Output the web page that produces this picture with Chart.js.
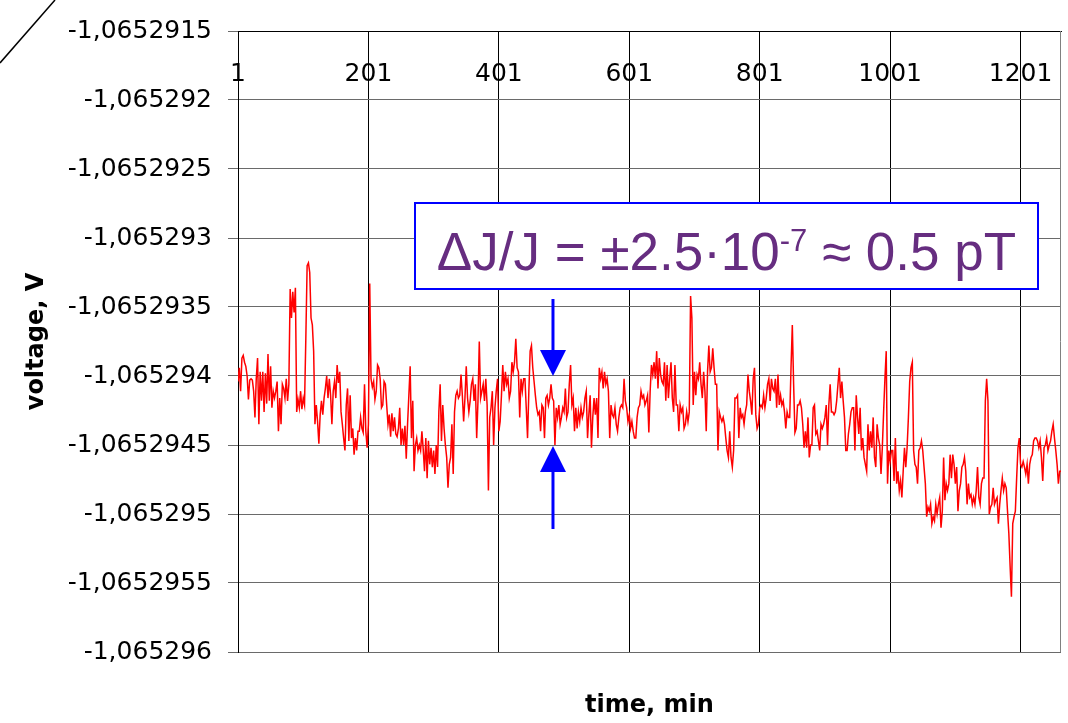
<!DOCTYPE html>
<html><head><meta charset="utf-8">
<script src="https://cdn.jsdelivr.net/npm/chart.js@4.4.0/dist/chart.umd.min.js"></script>
<style>html,body{margin:0;padding:0;background:#fff;}canvas{display:block;}</style>
</head><body>
<canvas id="c" width="1068" height="723"></canvas>
<script>
// voltage readings (V), one every 2 minutes
const voltage = [
-1.06529404,-1.06529394,-1.06529411,-1.06529387,-1.06529385,-1.06529390,-1.06529393,-1.06529400,-1.06529417,-1.06529403,
-1.06529402,-1.06529403,-1.06529411,-1.06529430,-1.06529402,-1.06529387,-1.06529435,-1.06529397,-1.06529418,-1.06529397,
-1.06529426,-1.06529398,-1.06529420,-1.06529384,-1.06529418,-1.06529393,-1.06529423,-1.06529411,-1.06529416,-1.06529411,
-1.06529404,-1.06529440,-1.06529416,-1.06529435,-1.06529406,-1.06529409,-1.06529416,-1.06529402,-1.06529418,-1.06529406,
-1.06529337,-1.06529358,-1.06529339,-1.06529354,-1.06529336,-1.06529426,-1.06529417,-1.06529423,-1.06529411,-1.06529424,
-1.06529416,-1.06529421,-1.06529373,-1.06529320,-1.06529318,-1.06529325,-1.06529358,-1.06529363,-1.06529382,-1.06529435,
-1.06529421,-1.06529433,-1.06529449,-1.06529428,-1.06529418,-1.06529428,-1.06529416,-1.06529409,-1.06529400,-1.06529416,
-1.06529402,-1.06529414,-1.06529435,-1.06529411,-1.06529404,-1.06529416,-1.06529392,-1.06529405,-1.06529397,-1.06529426,
-1.06529435,-1.06529445,-1.06529454,-1.06529421,-1.06529409,-1.06529447,-1.06529414,-1.06529445,-1.06529438,-1.06529457,
-1.06529445,-1.06529454,-1.06529440,
-1.06529440,-1.06529430,-1.06529438,-1.06529441,-1.06529406,-1.06529440,-1.06529452,-1.06529435,-1.06529333,-1.06529402,
-1.06529408,-1.06529404,-1.06529417,-1.06529411,-1.06529392,-1.06529394,-1.06529402,-1.06529423,-1.06529421,-1.06529404,
-1.06529406,-1.06529421,-1.06529435,-1.06529428,-1.06529444,-1.06529427,-1.06529440,-1.06529430,-1.06529442,-1.06529444,
-1.06529438,-1.06529423,-1.06529450,-1.06529438,-1.06529450,-1.06529436,-1.06529460,-1.06529435,-1.06529414,-1.06529393,
-1.06529445,-1.06529418,-1.06529469,-1.06529450,-1.06529445,-1.06529454,-1.06529450,-1.06529454,-1.06529440,-1.06529453,
-1.06529469,-1.06529445,-1.06529474,-1.06529447,-1.06529464,-1.06529452,-1.06529466,-1.06529454,-1.06529471,-1.06529450,
-1.06529466,-1.06529426,-1.06529406,-1.06529447,-1.06529421,-1.06529438,-1.06529450,-1.06529459,-1.06529481,-1.06529464,
-1.06529459,-1.06529435,-1.06529471,-1.06529426,-1.06529414,-1.06529411,-1.06529416,-1.06529414,-1.06529399,-1.06529414,
-1.06529433,-1.06529416,-1.06529393,-1.06529416,-1.06529426,-1.06529418,-1.06529406,-1.06529402,-1.06529418,-1.06529406,
-1.06529445,-1.06529418,
-1.06529375,-1.06529416,-1.06529411,-1.06529406,-1.06529418,-1.06529402,-1.06529421,-1.06529483,-1.06529430,-1.06529423,
-1.06529411,-1.06529450,-1.06529423,-1.06529411,-1.06529402,-1.06529440,-1.06529433,-1.06529414,-1.06529392,-1.06529411,
-1.06529397,-1.06529406,-1.06529402,-1.06529416,-1.06529411,-1.06529390,-1.06529397,-1.06529390,-1.06529373,-1.06529394,
-1.06529397,-1.06529430,-1.06529402,-1.06529411,-1.06529402,-1.06529402,-1.06529423,-1.06529445,-1.06529411,-1.06529382,
-1.06529378,-1.06529394,-1.06529404,-1.06529414,-1.06529423,-1.06529428,-1.06529426,-1.06529440,-1.06529421,-1.06529423,
-1.06529445,-1.06529416,-1.06529414,-1.06529421,-1.06529416,-1.06529406,-1.06529416,-1.06529418,-1.06529450,-1.06529423,
-1.06529430,-1.06529421,-1.06529435,-1.06529430,-1.06529423,-1.06529426,-1.06529409,-1.06529430,-1.06529426,-1.06529406,
-1.06529392,-1.06529421,-1.06529416,-1.06529440,-1.06529423,-1.06529438,-1.06529426,-1.06529433,-1.06529423,-1.06529430,
-1.06529426,-1.06529416,-1.06529411,-1.06529445,-1.06529428,-1.06529414,-1.06529452,-1.06529430,-1.06529416,-1.06529428,
-1.06529416,-1.06529445,
-1.06529394,-1.06529402,-1.06529397,-1.06529409,-1.06529397,-1.06529406,-1.06529402,-1.06529411,-1.06529445,-1.06529421,
-1.06529428,-1.06529430,-1.06529423,-1.06529435,-1.06529440,-1.06529430,-1.06529423,-1.06529421,-1.06529423,-1.06529402,
-1.06529418,-1.06529423,-1.06529433,-1.06529428,-1.06529438,-1.06529433,-1.06529440,-1.06529445,-1.06529445,-1.06529430,
-1.06529423,-1.06529421,-1.06529411,-1.06529416,-1.06529414,-1.06529421,-1.06529418,-1.06529414,-1.06529441,-1.06529411,
-1.06529392,-1.06529399,-1.06529390,-1.06529402,-1.06529382,-1.06529409,-1.06529387,-1.06529399,-1.06529404,-1.06529406,
-1.06529390,-1.06529418,-1.06529392,-1.06529416,-1.06529402,-1.06529390,-1.06529416,-1.06529426,-1.06529392,-1.06529421,
-1.06529421,-1.06529440,-1.06529421,-1.06529426,-1.06529423,-1.06529438,-1.06529435,-1.06529426,-1.06529433,-1.06529426,
-1.06529342,-1.06529358,-1.06529421,-1.06529397,-1.06529414,-1.06529399,-1.06529402,-1.06529390,-1.06529406,-1.06529416,
-1.06529397,-1.06529411,-1.06529440,-1.06529397,-1.06529378,-1.06529397,-1.06529394,-1.06529380,-1.06529394,-1.06529406,
-1.06529406,-1.06529454,
-1.06529426,-1.06529430,-1.06529433,-1.06529430,-1.06529435,-1.06529445,-1.06529454,-1.06529459,-1.06529440,-1.06529459,
-1.06529466,-1.06529454,-1.06529416,-1.06529416,-1.06529414,-1.06529445,-1.06529423,-1.06529430,-1.06529428,-1.06529435,
-1.06529426,-1.06529421,-1.06529399,-1.06529411,-1.06529418,-1.06529428,-1.06529402,-1.06529394,-1.06529428,-1.06529438,
-1.06529435,-1.06529423,-1.06529421,-1.06529423,-1.06529414,-1.06529423,-1.06529416,-1.06529406,-1.06529402,-1.06529418,
-1.06529402,-1.06529409,-1.06529411,-1.06529402,-1.06529423,-1.06529399,-1.06529421,-1.06529414,-1.06529421,-1.06529418,
-1.06529426,-1.06529438,-1.06529426,-1.06529430,-1.06529430,-1.06529394,-1.06529363,-1.06529406,-1.06529441,-1.06529438,
-1.06529421,-1.06529421,-1.06529418,-1.06529423,-1.06529435,-1.06529452,-1.06529440,-1.06529452,-1.06529430,-1.06529459,
-1.06529450,-1.06529450,-1.06529423,-1.06529421,-1.06529442,-1.06529440,-1.06529447,-1.06529454,-1.06529435,-1.06529438,
-1.06529435,-1.06529430,-1.06529421,-1.06529450,-1.06529421,-1.06529406,-1.06529426,-1.06529426,-1.06529428,-1.06529426,
-1.06529418,-1.06529406,
-1.06529394,-1.06529416,-1.06529404,-1.06529418,-1.06529430,-1.06529454,-1.06529454,-1.06529442,-1.06529435,-1.06529426,
-1.06529423,-1.06529423,-1.06529454,-1.06529414,-1.06529430,-1.06529442,-1.06529423,-1.06529454,-1.06529445,-1.06529459,
-1.06529464,-1.06529469,-1.06529435,-1.06529454,-1.06529440,-1.06529452,-1.06529430,-1.06529459,-1.06529466,-1.06529435,
-1.06529445,-1.06529450,-1.06529471,-1.06529452,-1.06529426,-1.06529402,-1.06529382,-1.06529478,-1.06529454,-1.06529462,
-1.06529454,-1.06529454,-1.06529476,-1.06529445,-1.06529478,-1.06529469,-1.06529483,-1.06529476,-1.06529488,-1.06529469,
-1.06529452,-1.06529466,-1.06529452,-1.06529430,-1.06529404,-1.06529394,-1.06529390,-1.06529454,-1.06529464,-1.06529466,
-1.06529478,-1.06529454,-1.06529452,-1.06529447,-1.06529454,-1.06529466,-1.06529478,-1.06529502,-1.06529495,-1.06529498,
-1.06529493,-1.06529507,-1.06529502,-1.06529505,-1.06529493,-1.06529500,-1.06529493,-1.06529488,-1.06529510,-1.06529498,
-1.06529459,-1.06529490,-1.06529478,-1.06529483,-1.06529478,-1.06529457,-1.06529474,-1.06529457,-1.06529464,-1.06529478,
-1.06529466,-1.06529498,
-1.06529483,-1.06529478,-1.06529466,-1.06529464,-1.06529459,-1.06529469,-1.06529493,-1.06529478,-1.06529488,-1.06529486,
-1.06529493,-1.06529488,-1.06529493,-1.06529483,-1.06529466,-1.06529488,-1.06529493,-1.06529478,-1.06529474,-1.06529474,
-1.06529418,-1.06529402,-1.06529418,-1.06529500,-1.06529495,-1.06529493,-1.06529481,-1.06529493,-1.06529490,-1.06529488,
-1.06529507,-1.06529493,-1.06529483,-1.06529474,-1.06529483,-1.06529478,-1.06529481,-1.06529498,-1.06529514,-1.06529538,
-1.06529560,-1.06529507,-1.06529502,-1.06529498,-1.06529474,-1.06529452,-1.06529445,-1.06529464,-1.06529466,-1.06529462,
-1.06529466,-1.06529471,-1.06529464,-1.06529478,-1.06529464,-1.06529459,-1.06529457,-1.06529447,-1.06529445,-1.06529445,
-1.06529447,-1.06529452,-1.06529447,-1.06529459,-1.06529476,-1.06529452,-1.06529450,-1.06529445,-1.06529454,-1.06529450,
-1.06529447,-1.06529440,-1.06529435,-1.06529445,-1.06529454,-1.06529464,-1.06529478,-1.06529469,-1.06529469
];
// time in minutes for each reading
const time = voltage.map((v, i) => 1 + 2 * i);
const xTicks = [1, 201, 401, 601, 801, 1001, 1201];
const xTickLabels = ['1', '201', '401', '601', '801', '1001', '1201'];
const yTicks = [-1.065296, -1.0652955, -1.065295, -1.0652945, -1.065294, -1.0652935, -1.065293, -1.0652925, -1.065292, -1.0652915];
const yTickLabels = ['-1,065296', '-1,0652955', '-1,065295', '-1,0652945', '-1,065294', '-1,0652935', '-1,065293', '-1,0652925', '-1,065292', '-1,0652915'];
const xMin = 1, xMax = 1263;
const bandTime = 484;
const bandHigh = -1.065294;
const bandLow = -1.0652945;

const decor = {
  id: 'decor',
  beforeDraw(chart) {
    const c = chart.ctx;
    c.save();
    c.fillStyle = '#fff';
    c.fillRect(0, 0, chart.width, chart.height);
    c.restore();
  },
  beforeDatasetsDraw(chart) {
    const c = chart.ctx, a = chart.chartArea;
    c.save();
    c.strokeStyle = '#808080';
    c.lineWidth = 1;
    c.beginPath();
    c.moveTo(Math.round(a.right) - 0.5, a.top);
    c.lineTo(Math.round(a.right) - 0.5, a.bottom);
    c.stroke();
    c.restore();
  },
  afterDatasetsDraw(chart) {
    const c = chart.ctx;
    const xs = chart.scales.x, ys = chart.scales.y;
    c.save();
    // annotation box
    const bx = 415, by = 203, bw = 623, bh = 86;
    c.fillStyle = '#fff';
    c.fillRect(bx, by, bw, bh);
    c.strokeStyle = '#0000ff';
    c.lineWidth = 2;
    c.strokeRect(bx, by, bw, bh);
    const p1 = '\u0394J/J = \u00B12.5\u00B710', sup = '-7', p2 = ' \u2248 0.5 pT';
    const big = '53px "Liberation Sans", Arial, sans-serif';
    const small = '31px "Liberation Sans", Arial, sans-serif';
    c.font = big; const w1 = c.measureText(p1).width, w2 = c.measureText(p2).width;
    c.font = small; const ws = c.measureText(sup).width;
    let x = bx + bw / 2 - (w1 + ws + w2) / 2;
    c.fillStyle = '#662d80';
    c.textBaseline = 'alphabetic';
    c.textAlign = 'left';
    c.font = big; c.fillText(p1, x, 270); x += w1;
    c.font = small; c.fillText(sup, x, 251); x += ws;
    c.font = big; c.fillText(p2, x, 270);
    // arrows
    const ax = xs.getPixelForValue(bandTime);
    const yHi = ys.getPixelForValue(bandHigh);
    const yLo = ys.getPixelForValue(bandLow);
    c.strokeStyle = '#0000ff'; c.fillStyle = '#0000ff'; c.lineWidth = 3;
    c.beginPath(); c.moveTo(ax, yHi - 77); c.lineTo(ax, yHi - 24); c.stroke();
    c.beginPath(); c.moveTo(ax - 13, yHi - 26); c.lineTo(ax + 13, yHi - 26); c.lineTo(ax, yHi); c.closePath(); c.fill();
    c.beginPath(); c.moveTo(ax, yLo + 84); c.lineTo(ax, yLo + 24); c.stroke();
    c.beginPath(); c.moveTo(ax - 13, yLo + 27); c.lineTo(ax + 13, yLo + 27); c.lineTo(ax, yLo + 1); c.closePath(); c.fill();
    c.restore();
  },
  afterDraw(chart) {
    const c = chart.ctx;
    c.save();
    c.strokeStyle = '#000';
    c.lineWidth = 1.5;
    c.beginPath(); c.moveTo(0, 63); c.lineTo(55, 0); c.stroke();
    c.restore();
  }
};

const noPad = s => { s.paddingLeft = 0; s.paddingRight = 0; s.paddingTop = 0; s.paddingBottom = 0; };

new Chart(document.getElementById('c').getContext('2d'), {
  type: 'line',
  data: {
    datasets: [{
      data: time.map((t, i) => ({ x: t, y: voltage[i] })),
      borderColor: '#ff0000',
      borderWidth: 1.5,
      pointRadius: 0,
      tension: 0,
      fill: false,
      xAxisID: 'x',
      yAxisID: 'y'
    }]
  },
  options: {
    responsive: false,
    animation: false,
    devicePixelRatio: 1,
    layout: { padding: { top: 26, right: 7, bottom: 0, left: 0 } },
    plugins: { legend: { display: false }, tooltip: { enabled: false } },
    scales: {
      x: {
        type: 'linear', position: 'top', min: xMin, max: xMax,
        afterBuildTicks: s => { s.ticks = xTicks.map(v => ({ value: v })); },
        afterFit: s => { s.height = 0; noPad(s); },
        grid: { color: '#000', lineWidth: 1, drawTicks: false },
        border: { display: true, color: '#000', width: 1 },
        ticks: {
          mirror: true, autoSkip: false, maxRotation: 0, minRotation: 0, padding: 28, color: '#000',
          font: { family: 'DejaVu Sans', size: 25 },
          callback: (v, i) => xTickLabels[i]
        }
      },
      x2: {
        type: 'linear', position: 'bottom', min: xMin, max: xMax,
        grid: { display: false }, border: { display: false }, ticks: { display: false },
        afterFit: s => { s.height = 71; noPad(s); },
        title: { display: true, text: 'time, min', color: '#000', font: { family: 'DejaVu Sans', size: 24, weight: 'bold' }, padding: { top: 0, bottom: 3 } }
      },
      y: {
        type: 'linear', min: -1.065296, max: -1.0652915,
        afterBuildTicks: s => { s.ticks = yTicks.map(v => ({ value: v })); },
        afterFit: s => { s.width = 238; },
        grid: { color: '#6a6a6a', tickColor: '#6a6a6a', tickLength: 10, drawTicks: true, lineWidth: 1 },
        border: { display: true, color: '#000', width: 1 },
        ticks: { padding: 16, color: '#000', font: { family: 'DejaVu Sans', size: 25 }, callback: (v, i) => yTickLabels[i] },
        title: { display: true, text: 'voltage, V', color: '#000', font: { family: 'DejaVu Sans', size: 24, weight: 'bold' }, padding: { top: 22, bottom: 0 } }
      }
    }
  },
  plugins: [decor]
});
</script>
</body></html>
